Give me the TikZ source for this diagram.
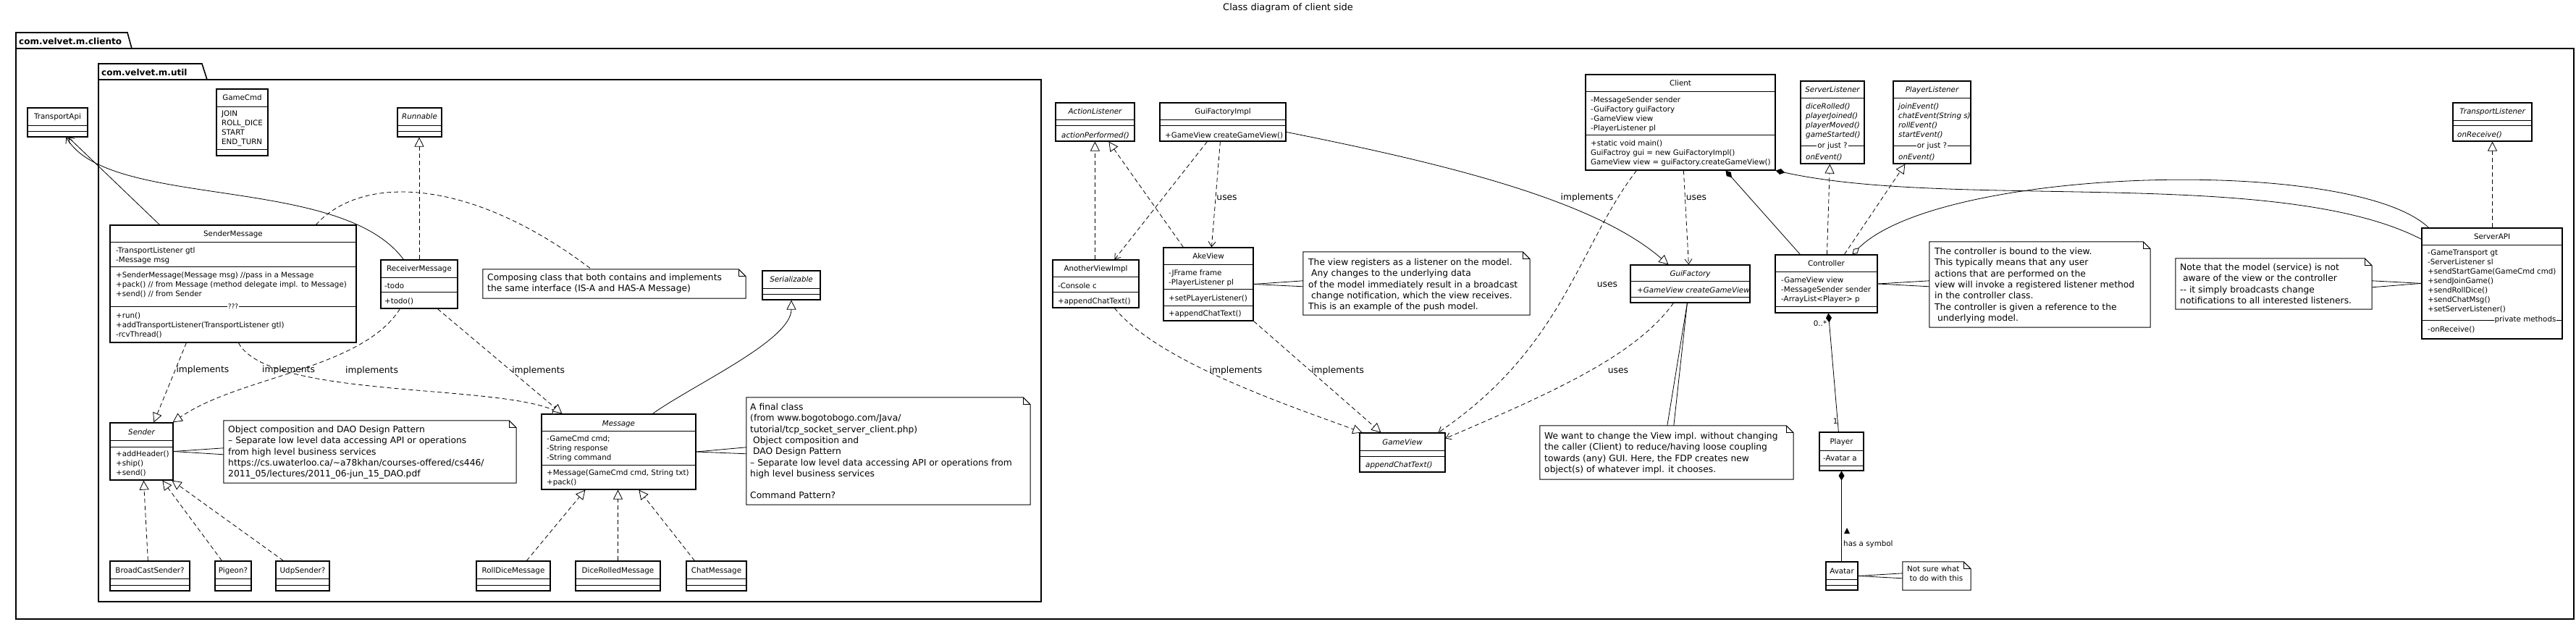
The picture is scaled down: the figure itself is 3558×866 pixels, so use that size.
\documentclass[tikz,border=0pt]{standalone}
\usepackage{fontspec}
\setmainfont{DejaVu Sans}
\usetikzlibrary{fit,arrows.meta}
\newcommand\cf{\fontsize{10.3}{13}\selectfont}
\newcommand\nf{\fontsize{12.3}{15.3}\selectfont}
\newcommand\ccls[5]{\node[clsbox,fit={(#2,#3)(#4,#5)}] (#1) {};}
\newcommand\csep[3]{\draw[sepline] (#1,#3) -- (#2,#3);}
\newcommand\cttl[4]{\node[ttl] (#1) at (#2,#3) {#4};}
\newcommand\cittl[4]{\node[ttl,font=\cf\itshape] (#1) at (#2,#3) {#4};}
\newcommand\cxt[4]{\node[ctx] (#1) at (#2,#3) {#4};}
\newcommand\cixt[4]{\node[ctx,font=\cf\itshape] (#1) at (#2,#3) {#4};}
\newcommand\nxt[4]{\node[ntx] (#1) at (#2,#3) {#4};}
\newcommand\nbox[5]{%
  \node[notebox,fit={(#2,#3)(#4,#5)}] (#1) {};
  \draw[notedraw] (#1.north west) -- ([xshift=-10pt]#1.north east) -- ([yshift=-10pt]#1.north east) -- (#1.south east) -- (#1.south west) -- cycle;
  \draw[notedraw] ([xshift=-10pt]#1.north east) -- ([xshift=-10pt,yshift=-10pt]#1.north east) -- ([yshift=-10pt]#1.north east);}
\tikzset{
  clsbox/.style={draw, line width=1.2pt, inner sep=0pt},
  sepline/.style={line width=1pt},
  ttl/.style={anchor=base, inner sep=0pt, font=\cf},
  ctx/.style={anchor=north west, inner sep=0pt, align=left, font=\cf, execute at begin node={\rule{0pt}{9pt}}},
  ntx/.style={anchor=north west, inner sep=0pt, align=left, font=\nf, execute at begin node={\rule{0pt}{10pt}}},
  sepl/.style={fill=white, inner sep=1pt, font=\cf},
  lbl/.style={inner sep=1pt, font=\nf},
  notebox/.style={inner sep=0pt},
  notedraw/.style={line width=1pt},
  conn/.style={line width=0.8pt},
  dsh/.style={conn, dash pattern=on 6pt off 4pt},
  real/.style={dsh, -{Triangle[fill=white,length=13pt,width=13pt]}},
  gen/.style={conn, -{Triangle[fill=white,length=13pt,width=13pt]}},
  dep/.style={dsh, -{Straight Barb[length=7pt,width=10pt]}},
  nav/.style={conn, -{Straight Barb[length=7pt,width=10pt]}},
  comp/.style={conn, {Diamond[length=13pt,width=8pt]}-},
  aggr/.style={conn, {Diamond[fill=white,length=13pt,width=8pt]}-},
  pkg/.style={line width=1.6pt},
}
\begin{document}
\begin{tikzpicture}[x=1pt,y=-1pt]
\useasboundingbox (0,0) rectangle (3558,866);
\node[font=\fontsize{13}{15}\selectfont, inner sep=0pt] (title) at (1779,11) {Class diagram of client side};
% packages
\draw[pkg] (22,67) -- (22,45) -- (176,45) -- (182,67);
\draw[pkg] (22,67) rectangle (3555,855);
\node[anchor=base west, inner sep=0pt, font=\fontsize{12}{14}\selectfont\bfseries] (pk1) at (26,62) {com.velvet.m.cliento};
\draw[pkg] (136,110) -- (136,88) -- (279,88) -- (286,110);
\draw[pkg] (136,110) rectangle (1438,831);
\node[anchor=base west, inner sep=0pt, font=\fontsize{12}{14}\selectfont\bfseries] (pk2) at (140,105) {com.velvet.m.util};

% ===== classes =====
\ccls{tapi}{38}{149}{121}{189}\csep{38}{121}{174}\csep{38}{121}{182}
\cttl{tapi-t}{79.5}{165}{TransportApi}

\ccls{gcmd}{299}{123}{370}{215}\csep{299}{370}{148}\csep{299}{370}{207}
\cttl{gcmd-t}{334.5}{139}{GameCmd}
\cxt{gcmd-a}{306}{153}{JOIN\\ROLL\_DICE\\START\\END\_TURN}

\ccls{runn}{549}{149}{610}{189}\csep{549}{610}{174}\csep{549}{610}{182}
\cittl{runn-t}{579.5}{165}{Runnable}

\ccls{smsg}{152}{311}{492}{473}\csep{152}{492}{335}\csep{152}{492}{369}\csep{152}{492}{423}
\cttl{smsg-t}{322}{327}{SenderMessage}
\cxt{smsg-a}{160}{341}{-TransportListener gtl\\-Message msg}
\cxt{smsg-m}{160}{375}{+SenderMessage(Message msg) //pass in a Message\\+pack() // from Message (method delegate impl. to Message)\\+send() // from Sender}
\node[sepl,font=\fontsize{9}{10}\selectfont] (smsg-q) at (322,423) {???};
\cxt{smsg-r}{160}{431}{+run()\\+addTransportListener(TransportListener gtl)\\-rcvThread()}

\ccls{rmsg}{526}{359}{632}{426}\csep{526}{632}{384}\csep{526}{632}{404}
\cttl{rmsg-t}{579}{375}{ReceiverMessage}
\cxt{rmsg-a}{531}{389}{-todo}
\cxt{rmsg-m}{531}{410}{+todo()}

\ccls{sndr}{152}{584}{239}{663}\csep{152}{239}{608}\csep{152}{239}{617}
\cittl{sndr-t}{195.5}{600}{Sender}
\cxt{sndr-m}{160}{622}{+addHeader()\\+ship()\\+send()}

\ccls{bcs}{152}{775}{262}{816}\csep{152}{262}{799}\csep{152}{262}{808}
\cttl{bcs-t}{207}{791}{BroadCastSender?}
\ccls{pig}{297}{775}{347}{816}\csep{297}{347}{799}\csep{297}{347}{808}
\cttl{pig-t}{322}{791}{Pigeon?}
\ccls{udp}{381}{775}{455}{816}\csep{381}{455}{799}\csep{381}{455}{808}
\cttl{udp-t}{418}{791}{UdpSender?}

\ccls{msg}{748}{572}{961}{676}\csep{748}{961}{595}\csep{748}{961}{642}
\cittl{msg-t}{854.5}{588}{Message}
\cxt{msg-a}{755}{601}{-GameCmd cmd;\\-String response\\-String command}
\cxt{msg-m}{755}{648}{+Message(GameCmd cmd, String txt)\\+pack()}

\ccls{rdm}{658}{775}{760}{816}\csep{658}{760}{799}\csep{658}{760}{808}
\cttl{rdm-t}{709}{791}{RollDiceMessage}
\ccls{drm}{795}{775}{912}{816}\csep{795}{912}{799}\csep{795}{912}{808}
\cttl{drm-t}{853.5}{791}{DiceRolledMessage}
\ccls{cm}{948}{775}{1031}{816}\csep{948}{1031}{799}\csep{948}{1031}{808}
\cttl{cm-t}{989.5}{791}{ChatMessage}

\ccls{ser}{1053}{374}{1133}{414}\csep{1053}{1133}{399}\csep{1053}{1133}{407}
\cittl{ser-t}{1093}{390}{Serializable}

\ccls{al}{1458}{142}{1567}{195}\csep{1458}{1567}{166}\csep{1458}{1567}{174}
\cittl{al-t}{1512.5}{158}{ActionListener}
\cixt{al-m}{1466}{181}{actionPerformed()}

\ccls{gfi}{1602}{142}{1776}{195}\csep{1602}{1776}{166}\csep{1602}{1776}{174}
\cttl{gfi-t}{1689}{158}{GuiFactoryImpl}
\cxt{gfi-m}{1609}{181}{+GameView createGameView()}

\ccls{avi}{1454}{359}{1573}{425}\csep{1454}{1573}{383}\csep{1454}{1573}{404}
\cttl{avi-t}{1513.5}{375}{AnotherViewImpl}
\cxt{avi-a}{1461}{389}{-Console c}
\cxt{avi-m}{1461}{410}{+appendChatText()}

\ccls{ake}{1607}{342}{1731}{443}\csep{1607}{1731}{366}\csep{1607}{1731}{400}\csep{1607}{1731}{422}
\cttl{ake-t}{1669}{358}{AkeView}
\cxt{ake-a}{1614}{372}{-JFrame frame\\-PlayerListener pl}
\cxt{ake-m}{1614}{406}{+setPLayerListener()}
\cxt{ake-n}{1614}{427}{+appendChatText()}

\ccls{gv}{1878}{598}{1996}{652}\csep{1878}{1996}{622}\csep{1878}{1996}{630}
\cittl{gv-t}{1937}{614}{GameView}
\cixt{gv-m}{1886}{636}{appendChatText()}

\ccls{cli}{2190}{103}{2452}{235}\csep{2190}{2452}{127}\csep{2190}{2452}{187}
\cttl{cli-t}{2321}{119}{Client}
\cxt{cli-a}{2197}{133}{-MessageSender sender\\-GuiFactory guiFactory\\-GameView view\\-PlayerListener pl}
\cxt{cli-m}{2197}{193}{+static void main()\\GuiFactroy gui = new GuiFactoryImpl()\\GameView view = guiFactory.createGameView()}

\ccls{gf}{2252}{366}{2417}{418}\csep{2252}{2417}{389}\csep{2252}{2417}{411}
\cittl{gf-t}{2334.5}{382}{GuiFactory}
\cixt{gf-m}{2261}{395}{+GameView createGameView}

\ccls{sl}{2487}{112}{2575}{226}\csep{2487}{2575}{136}\csep{2487}{2575}{202}
\cittl{sl-t}{2531}{128}{ServerListener}
\cixt{sl-m}{2494}{142}{diceRolled()\\playerJoined()\\playerMoved()\\gameStarted()}
\node[sepl] (sl-q) at (2531,202) {or just ?};
\cixt{sl-e}{2494}{211}{onEvent()}

\ccls{pl}{2615}{112}{2722}{226}\csep{2615}{2722}{136}\csep{2615}{2722}{202}
\cittl{pl-t}{2668.5}{128}{PlayerListener}
\cixt{pl-m}{2622}{142}{joinEvent()\\chatEvent(String s)\\rollEvent()\\startEvent()}
\node[sepl] (pl-q) at (2668.5,202) {or just ?};
\cixt{pl-e}{2622}{211}{onEvent()}

\ccls{ctrl}{2452}{352}{2593}{432}\csep{2452}{2593}{376}\csep{2452}{2593}{423}
\cttl{ctrl-t}{2522.5}{368}{Controller}
\cxt{ctrl-a}{2460}{382}{-GameView view\\-MessageSender sender\\-ArrayList<Player> p}

\ccls{ply}{2513}{597}{2574}{650}\csep{2513}{2574}{622}\csep{2513}{2574}{643}
\cttl{ply-t}{2543.5}{613}{Player}
\cxt{ply-a}{2518}{627}{-Avatar a}

\ccls{av}{2522}{776}{2566}{815}\csep{2522}{2566}{800}\csep{2522}{2566}{808}
\cttl{av-t}{2544}{792}{Avatar}

\ccls{tl}{3388}{142}{3497}{195}\csep{3388}{3497}{167}\csep{3388}{3497}{174}
\cittl{tl-t}{3442.5}{158}{TransportListener}
\cixt{tl-m}{3394}{180}{onReceive()}

\ccls{sapi}{3345}{315}{3539}{468}\csep{3345}{3539}{339}\csep{3345}{3539}{442}
\cttl{sapi-t}{3442}{331}{ServerAPI}
\cxt{sapi-a}{3353}{345}{-GameTransport gt\\-ServerListener sl\\+sendStartGame(GameCmd cmd)\\+sendJoinGame()\\+sendRollDice()\\+sendChatMsg()\\+setServerListener()}
\node[sepl] (sapi-q) at (3488,442) {private methods};
\cxt{sapi-p}{3353}{449}{-onReceive()}

% ===== notes =====
\nbox{n1}{667}{372}{1030}{412}
\nxt{n1-t}{673}{378}{Composing class that both contains and implements\\the same interface (IS-A and HAS-A Message)}
\nbox{n2}{309}{581}{713}{667}
\nxt{n2-t}{315}{588}{Object composition and DAO Design Pattern\\– Separate low level data accessing API or operations\\from high level business services\\https://cs.uwaterloo.ca/\textasciitilde a78khan/courses-offered/cs446/\\2011\_05/lectures/2011\_06-jun\_15\_DAO.pdf}
\nbox{n3}{1031}{549}{1423}{697}
\nxt{n3-t}{1036}{557}{A final class\\(from www.bogotobogo.com/Java/\\tutorial/tcp\_socket\_server\_client.php)\\\ Object composition and\\\ DAO Design Pattern\\– Separate low level data accessing API or operations from\\high level business services\\[15.3pt]Command Pattern?}
\nbox{n4}{1800}{348}{2113}{435}
\nxt{n4-t}{1807}{357}{The view registers as a listener on the model.\\\ Any changes to the underlying data\\of the model immediately result in a broadcast\\\ change notification, which the view receives.\\This is an example of the push model.}
\nbox{n5}{2127}{588}{2477}{662}
\nxt{n5-t}{2133}{597}{We want to change the View impl. without changing\\the caller (Client) to reduce/having loose coupling\\towards (any) GUI. Here, the FDP creates new\\object(s) of whatever impl. it chooses.}
\nbox{n6}{2665}{334}{2970}{452}
\nxt{n6-t}{2672}{342}{The controller is bound to the view.\\This typically means that any user\\actions that are performed on the\\view will invoke a registered listener method\\in the controller class.\\The controller is given a reference to the\\\ underlying model.}
\nbox{n7}{3005}{357}{3276}{427}
\nxt{n7-t}{3011}{364}{Note that the model (service) is not\\\ aware of the view or the controller\\-{}- it simply broadcasts change\\notifications to all interested listeners.}
\nbox{n8}{2628}{776}{2722}{815}
\node[ntx,font=\cf] (n8-t) at (2634,781) {Not sure what\\\ to do with this};

% ===== connectors: util package =====
\draw[nav] ([xshift=69pt]smsg.north west) -- ([xshift=57pt]tapi.south west);
\draw[nav] ([xshift=32pt]rmsg.north west) .. controls (470,240) and (150,290) .. ([xshift=54pt]tapi.south west);
\draw[dsh] ([xshift=285pt]smsg.north west) .. controls (500,240) and (650,245) .. ([xshift=150pt]n1.north west);
\draw[real] (rmsg.north) -- (rmsg.north |- runn.south);
\draw[real] ([xshift=106pt]smsg.south west) -- node[lbl,pos=0.34,right] (l1) {implements} ([xshift=61pt]sndr.north west);
\draw[real] ([xshift=178pt]smsg.south west) .. controls (370,550) and (680,530) .. ([xshift=29pt]msg.north west);
\node[lbl,anchor=west] (l2) at (361,511) {implements};
\draw[real] ([xshift=27pt]rmsg.south west) .. controls (500,510) and (330,520) .. ([xshift=-1pt]sndr.north east);
\node[lbl,anchor=west] (l3) at (476,512) {implements};
\draw[real] ([xshift=79pt]rmsg.south west) -- node[lbl,pos=0.59,right] (l4) {implements} ([xshift=29pt]msg.north west);
\draw[gen] ([xshift=154pt]msg.north west) .. controls (960,530) and (1093,470) .. (ser.south);
\draw[conn] (sndr.east) -- ([yshift=-38pt]n2.north west);
\draw[conn] (sndr.east) -- ([yshift=-47pt]n2.north west);
\draw[conn] (msg.east) -- ([yshift=-69pt]n3.north west);
\draw[conn] (msg.east) -- ([yshift=-78pt]n3.north west);
\draw[real] ([xshift=53pt]bcs.north west) -- ([xshift=47pt]sndr.south west);
\draw[real] ([xshift=10pt]pig.north west) -- ([xshift=73pt]sndr.south west);
\draw[real] ([xshift=11pt]udp.north west) -- ([xshift=86pt]sndr.south west);
\draw[real] ([xshift=70pt]rdm.north west) -- ([xshift=61pt]msg.south west);
\draw[real] (drm.north) -- (drm.north |- msg.south);
\draw[real] ([xshift=12pt]cm.north west) -- ([xshift=135pt]msg.south west);

% ===== connectors: view part =====
\draw[real] ([xshift=59pt]avi.north west) -- ([xshift=55pt]al.south west);
\draw[real] ([xshift=28pt]ake.north west) -- ([xshift=74pt]al.south west);
\draw[dep] ([xshift=66pt]gfi.south west) -- ([xshift=86pt]avi.north west);
\draw[dep] ([xshift=84pt]gfi.south west) -- node[lbl,pos=0.53,right] (l5) {uses} ([xshift=67pt]ake.north west);
\draw[gen] ([yshift=-41pt]gfi.north east) .. controls (1990,225) and (2200,275) .. ([xshift=53pt]gf.north west);
\node[lbl] (l6) at (2192,273) {implements};
\draw[dep] ([xshift=136pt]cli.south west) -- node[lbl,pos=0.29,right] (l7) {uses} ([xshift=81pt]gf.north west);
\draw[comp] ([xshift=194pt]cli.south west) -- ([xshift=35pt]ctrl.north west);
\draw[dep] ([xshift=71pt]cli.south west) .. controls (2180,340) and (2160,480) .. ([xshift=-10pt]gv.north east);
\node[lbl] (l8) at (2220,393) {uses};
\draw[dep] ([xshift=60pt]gf.south west) .. controls (2260,490) and (2150,540) .. ([yshift=-8pt]gv.north east);
\node[lbl] (l9) at (2235,512) {uses};
\draw[conn] ([xshift=79pt]gf.south west) -- ([xshift=176pt]n5.north west);
\draw[conn] ([xshift=79pt]gf.south west) -- ([xshift=185pt]n5.north west);
\draw[real] ([xshift=86pt]avi.south west) .. controls (1600,500) and (1780,560) .. ([xshift=4pt]gv.north west);
\node[lbl] (l10) at (1707,512) {implements};
\draw[real] (ake.south east) -- node[lbl,pos=0.445,right] (l11) {implements} ([xshift=30pt]gv.north west);
\draw[conn] (ake.east) -- ([yshift=-40pt]n4.north west);
\draw[conn] (ake.east) -- ([yshift=-48pt]n4.north west);

% ===== connectors: controller / server =====
\draw[real] ([xshift=72pt]ctrl.north west) -- ([xshift=41pt]sl.south west);
\draw[real] ([xshift=96pt]ctrl.north west) -- ([xshift=17pt]pl.south west);
\draw[aggr] ([xshift=107pt]ctrl.north west) .. controls (2680,230) and (3250,215) .. ([xshift=10pt]sapi.north west);
\draw[comp] (cli.south east) .. controls (2700,290) and (3150,230) .. ([yshift=-16pt]sapi.north west);
\draw[real] (tl.south |- sapi.north) -- (tl.south);
\draw[conn] ([yshift=-77pt]sapi.north west) -- ([yshift=-31pt]n7.north east);
\draw[conn] ([yshift=-77pt]sapi.north west) -- ([yshift=-40pt]n7.north east);
\draw[conn] (ctrl.east) -- ([yshift=-54pt]n6.north west);
\draw[conn] (ctrl.east) -- ([yshift=-62pt]n6.north west);
\draw[comp] ([xshift=74pt]ctrl.south west) -- ([xshift=27pt]ply.north west);
\node[font=\cf, inner sep=0pt] (l12) at (2514,447) {0..*};
\node[font=\cf, inner sep=0pt] (l13) at (2535,582) {1};
\draw[comp] (ply.south) -- (ply.south |- av.north);
\node[font=\cf, inner sep=0pt, anchor=west] (l14) at (2546,752) {has a symbol};
\fill (2547,737) -- (2555,737) -- (2551,729) -- cycle;
\draw[conn] (av.east) -- ([yshift=-16pt]n8.north west);
\draw[conn] (av.east) -- ([yshift=-23pt]n8.north west);
\end{tikzpicture}
\end{document}
